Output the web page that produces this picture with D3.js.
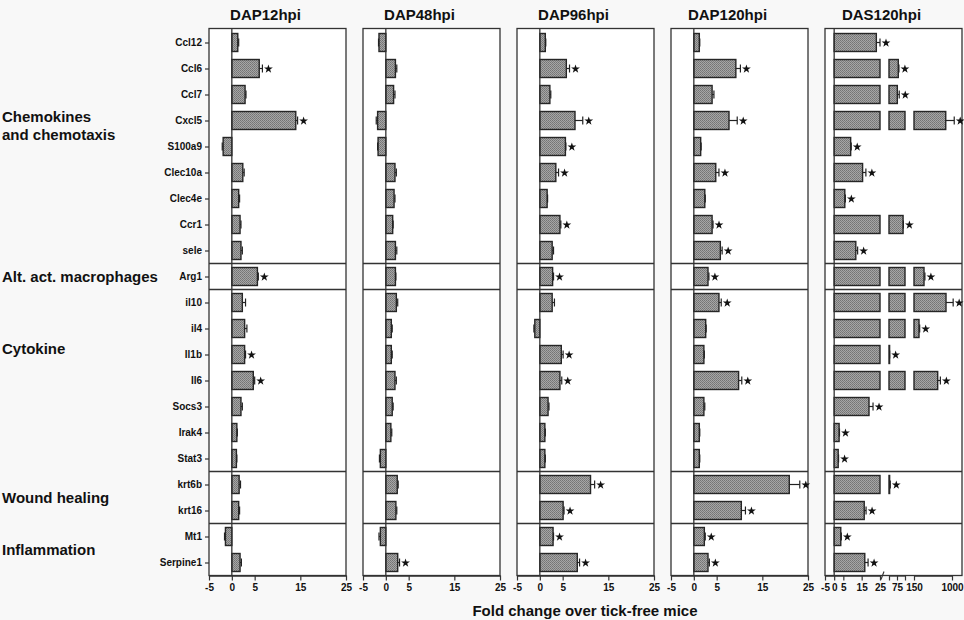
<!DOCTYPE html>
<html>
<head>
<meta charset="utf-8">
<script src="https://cdn.jsdelivr.net/npm/d3@7"></script>
<style>
  body { margin: 0; background: #f8f8f8; }
  text { font-family: Arial, "Liberation Sans", sans-serif; fill: #111; }
</style>
</head>
<body>
<svg id="chart" width="964" height="620"></svg>
<script>
// genes, top to bottom
var genes = ["Ccl12","Ccl6","Ccl7","Cxcl5","S100a9","Clec10a","Clec4e","Ccr1","sele",
  "Arg1","il10","il4","Il1b","Il6","Socs3","Irak4","Stat3","krt6b","krt16","Mt1","Serpine1"];

var groupNames = [["Chemokines","and chemotaxis"],["Alt. act. macrophages"],["Cytokine"],["Wound healing"],["Inflammation"]];
var groupLast = ["sele","Arg1","Stat3","krt16","Serpine1"];
var groupLabelRow = [3.2, 9, 11.8, 17.5, 19.5];   // row index where the label sits

var panelTitles = ["DAP12hpi","DAP48hpi","DAP96hpi","DAP120hpi","DAS120hpi"];

var dap12    = [1.3,6.0,2.9,14.0,-1.9,2.4,1.5,1.8,2.0,5.6,2.3,2.8,2.8,4.7,2.0,1.1,1.0,1.6,1.5,-1.4,1.8];
var dap12Err = [0.2,0.7,0.2,0.4,0.2,0.3,0.2,0.2,0.3,0.2,0.7,0.5,0.2,0.3,0.3,0.1,0.1,0.3,0.2,0.2,0.3];
var dap12Sig = ["Ccl6","Cxcl5","Arg1","Il1b","Il6"];

var dap48    = [-1.5,2.1,1.7,-1.8,-1.7,2.0,1.8,1.5,2.1,2.1,2.3,1.2,1.2,2.0,1.4,1.1,-1.2,2.5,2.2,-1.2,2.6];
var dap48Err = [0.1,0.3,0.3,0.3,0.1,0.3,0.2,0.1,0.3,0.1,0.3,0.2,0.2,0.3,0.2,0.2,0.2,0.2,0.2,0.3,0.4];
var dap48Sig = ["Serpine1"];

var dap96    = [1.2,5.8,2.2,7.7,5.6,3.5,1.6,4.4,2.7,2.8,2.7,-1.1,4.7,4.4,1.8,1.1,1.1,11.1,5.1,2.9,8.2];
var dap96Err = [0.1,0.7,0.2,1.7,0.1,0.6,0.1,0.2,0.3,0.2,0.5,0.2,0.4,0.4,0.2,0.1,0.1,0.9,0.2,0.1,0.5];
var dap96Sig = ["Ccl6","Cxcl5","S100a9","Clec10a","Ccr1","Arg1","Il1b","Il6","krt6b","krt16","Mt1","Serpine1"];

var dap120    = [1.2,9.2,4.0,7.7,1.5,4.8,2.4,4.0,5.8,3.1,5.5,2.6,2.2,9.8,2.2,1.2,1.2,20.9,10.4,2.3,3.1];
var dap120Err = [0.1,1.0,0.4,1.8,0.1,0.7,0.1,0.2,0.4,0.2,0.5,0.1,0.1,0.7,0.2,0.1,0.1,2.3,0.9,0.2,0.3];
var dap120Sig = ["Ccl6","Cxcl5","Clec10a","Ccr1","sele","Arg1","il10","Il6","krt6b","krt16","Mt1","Serpine1"];

var das120    = [23,79,76,860,9.0,15.5,5.8,94,11.8,374,866,262,51,680,19,2.7,2.2,52,16.4,3.6,16.7];
var das120Err = [2,2,6,190,0.3,1.8,0.3,1,1,20,160,15,1,60,2.2,0.2,0.2,2,1,0.3,1.8];
var das120Sig = genes.slice();

// x axis pieces: linear panels use one piece, DAS120hpi has a broken axis
var linearDomain = [-5, 25];
var linearTicks = [-5, 0, 5, 15, 25];
var brokenDomains = [[-5, 25], [50, 100], [150, 1000]];
var brokenTicks = [[-5, 0, 5, 15, 25], [50, 75, 100], [150, 1000]];
var brokenLabels = [[-5, 0, 5, 15, 25], [75], [150, 1000]];

var series = [
  {v: dap12, e: dap12Err, s: dap12Sig},
  {v: dap48, e: dap48Err, s: dap48Sig},
  {v: dap96, e: dap96Err, s: dap96Sig},
  {v: dap120, e: dap120Err, s: dap120Sig},
  {v: das120, e: das120Err, s: das120Sig}
];

var svg = d3.select("#chart");
var panelLeft = [209, 363, 517, 671, 825], panelW = 137;
var yTop = 29.5, yBot = 575.5;

var y = d3.scalePoint().domain(genes).range([yTop, yBot]).padding(0.5);
var step = y.step(), barH = 18;

// stipple fill for the bars
var pat = svg.append("defs").append("pattern")
    .attr("id","stip").attr("width",2).attr("height",2)
    .attr("patternUnits","userSpaceOnUse");
pat.append("rect").attr("width",2).attr("height",2).attr("fill","#a6a6a6");
pat.append("rect").attr("width",1).attr("height",1).attr("fill","#747474");
pat.append("rect").attr("x",1).attr("y",1).attr("width",1).attr("height",1).attr("fill","#7e7e7e");

// separators between gene groups
var seps = groupLast.slice(0, -1).map(function(g){ return y(g) + step/2; });

panelTitles.forEach(function(title, p){
  var x0 = panelLeft[p];
  var segs;
  if (p < 4) {
    segs = [{sc: d3.scaleLinear().domain(linearDomain).range([x0, x0 + panelW]), ticks: linearTicks, labels: linearTicks}];
  } else {
    var offs = [[0,55],[64,80],[89,127]];
    segs = brokenDomains.map(function(dom, i){
      return {sc: d3.scaleLinear().domain(dom).range([x0 + offs[i][0], x0 + offs[i][1]]),
              ticks: brokenTicks[i], labels: brokenLabels[i]};
    });
  }
  var x = segs[0].sc;
  var g = svg.append("g");

  g.append("rect")
      .attr("x", x0).attr("y", yTop - 1)
      .attr("width", panelW).attr("height", yBot - yTop + 1)
      .attr("fill", "#fff").attr("stroke", "#333").attr("stroke-width", 1.3);

  g.selectAll("line.sep").data(seps).enter().append("line")
      .attr("x1", x0).attr("x2", x0 + panelW)
      .attr("y1", function(d){ return d; }).attr("y2", function(d){ return d; })
      .attr("stroke", "#333").attr("stroke-width", 1.3);

  g.append("text")
      .attr("x", x0 + panelW/2 - 12).attr("y", 20)
      .attr("text-anchor", "middle")
      .style("font-weight", "bold").style("font-size", "15px")
      .text(title);

  var d = series[p];
  var rows = genes.map(function(gene, i){ return {gene: gene, v: d.v[i], e: d.e[i], sig: d.s.indexOf(gene) >= 0}; });

  // bars (one piece per axis segment the value reaches)
  rows.forEach(function(r){
    var cy = y(r.gene);
    var last = segs[0];
    segs.forEach(function(s, k){
      var dom = s.sc.domain(), a, b;
      if (k === 0) { a = Math.min(0, r.v); b = Math.max(0, Math.min(r.v, dom[1])); }
      else if (r.v >= dom[0]) { a = dom[0]; b = Math.min(r.v, dom[1]); last = s; }
      else return;
      g.append("rect")
          .attr("x", s.sc(a)).attr("y", cy - barH/2)
          .attr("width", Math.max(0.6, s.sc(b) - s.sc(a))).attr("height", barH)
          .attr("fill", "url(#stip)").attr("stroke", "#262626").attr("stroke-width", 1.4);
    });
    var sgn = r.v < 0 ? -1 : 1;
    var xe = last.sc(r.v), xe2 = last.sc(r.v + sgn * r.e);
    g.append("line").attr("x1", xe).attr("x2", xe2).attr("y1", cy).attr("y2", cy)
        .attr("stroke", "#222").attr("stroke-width", 1.2);
    g.append("line").attr("x1", xe2).attr("x2", xe2).attr("y1", cy - 4).attr("y2", cy + 4)
        .attr("stroke", "#222").attr("stroke-width", 1.2);
    if (r.sig) {
      g.append("path")
          .attr("d", d3.symbol(d3.symbolStar).size(24)())
          .attr("transform", "translate(" + (xe2 + 6) + "," + (cy + 0.5) + ")")
          .attr("fill", "#111");
    }
  });

  // zero line
  g.append("line").attr("x1", x(0)).attr("x2", x(0)).attr("y1", yTop - 1).attr("y2", yBot)
      .attr("stroke", "#333").attr("stroke-width", 1.3);

  // x axes
  segs.forEach(function(s, k){
    var ax = g.append("g")
        .attr("transform", "translate(0," + yBot + ")")
        .call(d3.axisBottom(s.sc).tickValues(s.ticks).tickSize(5).tickSizeOuter(0)
          .tickFormat(function(t){ return s.labels.indexOf(t) >= 0 ? t : ""; }));
    ax.select(".domain").attr("stroke", "#333").attr("stroke-width", 1.3);
    ax.selectAll(".tick line").attr("stroke", "#333").attr("stroke-width", 1.2);
    ax.selectAll(".tick text").attr("y", 8)
        .style("font-family", "Arial, 'Liberation Sans', sans-serif")
        .style("font-weight", "bold").style("font-size", "10px").attr("fill", "#222");
    if (segs.length > 1 && k === 0) {
      var xb = s.sc.range()[1];
      g.append("line").attr("x1", xb + 1).attr("x2", xb + 4).attr("y1", yBot + 4).attr("y2", yBot - 4)
          .attr("stroke", "#333").attr("stroke-width", 1.1);
    }
  });

  // gene labels on the first panel
  if (p === 0) {
    var yl = svg.append("g").attr("transform", "translate(" + x0 + ",0)")
        .call(d3.axisLeft(y).tickSize(4).tickPadding(3));
    yl.select(".domain").remove();
    yl.selectAll(".tick line").attr("stroke", "#333").attr("stroke-width", 1.2);
    yl.selectAll(".tick text")
        .style("font-family", "Arial, 'Liberation Sans', sans-serif")
        .style("font-weight", "bold").style("font-size", "10px").attr("fill", "#222");
  }
});

// group labels on the far left
groupNames.forEach(function(lines, i){
  var cy = yTop + step * (groupLabelRow[i] + 0.5);
  var t = svg.append("text").attr("x", 2)
      .style("font-weight", "bold").style("font-size", "15px");
  lines.forEach(function(l, j){
    t.append("tspan").attr("x", 2)
        .attr("y", cy + 5 + (j - (lines.length - 1) / 2) * 18)
        .text(l);
  });
});

svg.append("text")
    .attr("x", 585).attr("y", 616)
    .attr("text-anchor", "middle")
    .style("font-weight", "bold").style("font-size", "15px")
    .text("Fold change over tick-free mice");
</script>
</body>
</html>
